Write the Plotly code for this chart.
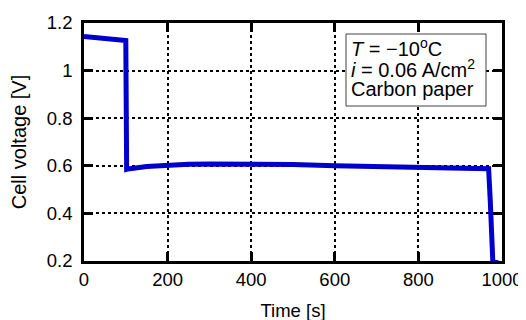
import plotly.graph_objects as go

time_s = [0, 10, 30, 50, 70, 90, 100, 102, 110, 150, 200, 250, 300, 400, 500, 600, 700, 800, 900, 968, 972, 978, 993]
voltage = [1.143, 1.141, 1.138, 1.135, 1.132, 1.128, 1.126, 0.585, 0.588, 0.597, 0.603, 0.606, 0.608, 0.608, 0.605, 0.600, 0.597, 0.593, 0.590, 0.588, 0.45, 0.20, 0.19]

x_ticks = [0, 200, 400, 600, 800, 1000]
y_ticks = [0.2, 0.4, 0.6, 0.8, 1.0, 1.2]
y_tick_labels = ["0.2", "0.4", "0.6", "0.8", "1", "1.2"]

legend_lines = ["<i>T</i> = \u221210<sup>o</sup>C",
                "<i>i</i> = 0.06 A/cm<sup>2</sup>",
                "Carbon paper"]

fig = go.Figure()
fig.add_trace(go.Scatter(x=time_s, y=voltage, mode="lines",
                         line=dict(color="#0000cd", width=5), showlegend=False))

font = "Liberation Sans, Arial, sans-serif"
axis_common = dict(showline=True, linecolor="black", linewidth=2.5, mirror="ticks",
                   ticks="inside", ticklen=9, tickwidth=2.5, tickcolor="black",
                   showgrid=True, gridcolor="black", gridwidth=1.5, griddash="dot",
                   zeroline=False, automargin=False,
                   tickfont=dict(family=font, size=18.5, color="black"))

fig.update_xaxes(range=[0, 1000], tickvals=x_ticks, ticklabelstandoff=0,
                 title=dict(text="Time [s]", font=dict(family=font, size=18.5, color="black"), standoff=16),
                 **axis_common)
fig.update_yaxes(range=[0.2, 1.2], tickvals=y_ticks, ticktext=y_tick_labels, ticklabelstandoff=5,
                 title=dict(text="Cell voltage [V]", font=dict(family=font, size=20, color="black"), standoff=16),
                 **axis_common)

# legend box (pixel geometry converted to paper fractions of the 418x238 plot area)
fig.add_shape(type="rect", xref="paper", yref="paper",
              x0=262 / 418, x1=402 / 418, y0=155 / 238, y1=227 / 238,
              line=dict(color="#404040", width=1), fillcolor="white", layer="above")
line_centers_px = [48, 69, 89]
for txt, py in zip(legend_lines, line_centers_px):
    fig.add_annotation(xref="paper", yref="paper", x=265 / 418, y=(261 - py) / 238,
                       xanchor="left", yanchor="middle", text=txt, showarrow=False,
                       font=dict(family=font, size=20, color="black"))

fig.update_layout(width=526, height=320, margin=dict(l=76, r=32, t=15, b=67),
                  plot_bgcolor="white", paper_bgcolor="white")

fig.write_html("out.html")
